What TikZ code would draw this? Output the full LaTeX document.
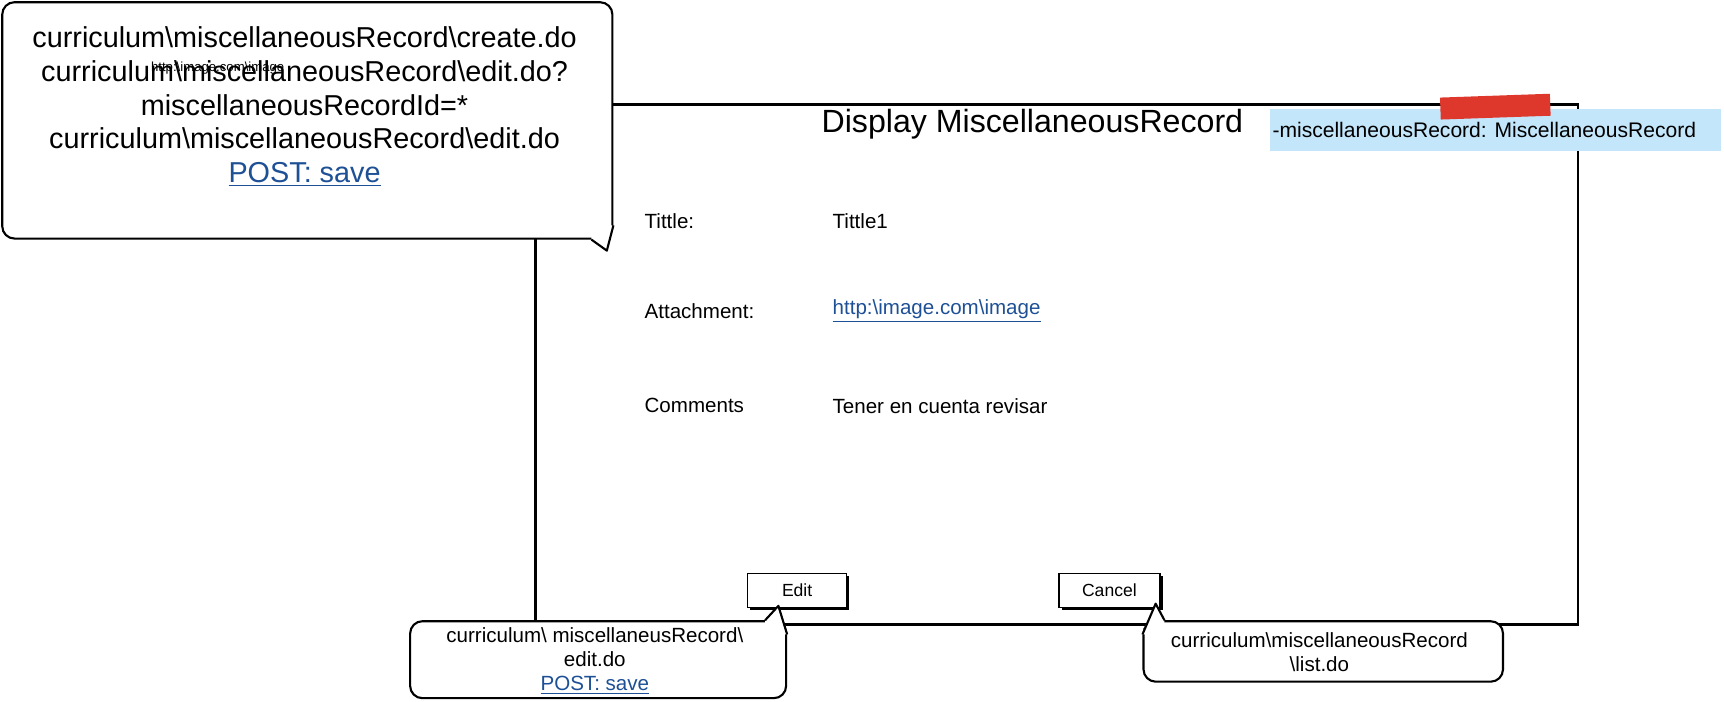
\documentclass[tikz,border=0pt]{standalone}
\usepackage{fontspec}
\setmainfont{Liberation Sans}
\usetikzlibrary{calc,shadows}
\definecolor{linkblue}{RGB}{30,80,150}
\definecolor{notebg}{RGB}{196,230,250}
\definecolor{tapered}{RGB}{222,56,44}
\newcommand{\bsl}{\textbackslash}
\begin{document}
\begin{tikzpicture}[x=0.022cm, y=-0.022cm,
        bubble/.style={rectangle, draw, fill=white, line width=1.2pt, rounded corners=7pt},
        tail/.style={line width=1.2pt, line join=round},
        bubbletext/.style={align=center, font=\fontsize{11.7}{13.8}\selectfont},
        window/.style={rectangle, draw, line width=1.2pt, minimum width=20.856cm, minimum height=10.406cm},
        field/.style={anchor=west, inner xsep=0pt, font=\fontsize{11.7}{13}\selectfont},
        btn/.style={rectangle, draw, fill=white, line width=0.8pt, minimum width=1.98cm, minimum height=0.68cm, font=\fontsize{10}{12}\selectfont,
            drop shadow={shadow xshift=1.6pt, shadow yshift=-1.6pt, fill=black, opacity=1}},
        link/.style={text=linkblue}
    ]
        \useasboundingbox (0,0) rectangle (1568,637.6);

        % Window
        \node[window] (win) at (961,331.5) {};
        \node[font=\fontsize{18.3}{21}\selectfont] (title) at (939,113) {Display MiscellaneousRecord};

        % Note with tape
        \node[fill=notebg, inner xsep=0pt, minimum width=9.02cm, minimum height=0.836cm, font=\fontsize{12}{14}\selectfont] (note) at (1360,118) {-miscellaneousRecord: MiscellaneousRecord\hspace*{0.44cm}};
        \node[fill=tapered, rotate=2, minimum width=2.2cm, minimum height=0.44cm] (tape) at (1360,97) {};

        % Fields
        \node[field] (tittleLbl) at (586,201) {Tittle:};
        \node[field] (tittleVal) at (757,201) {Tittle1};
        \node[field] (attachLbl) at (586,283) {Attachment:};
        \node[field, link] (attachVal) at (757,283) {\underline{http:\bsl image.com\bsl image}};
        \node[field] (commentsLbl) at (586,369) {Comments};
        \node[field] (commentsVal) at (757,369) {Tener en cuenta revisar};

        % Buttons
        \node[btn] (edit) at (725,537) {Edit};
        \node[btn, minimum width=2.02cm] (cancel) at (1009,537) {Cancel};

        % Bubble top left
        \node[bubble, minimum width=12.21cm, minimum height=4.73cm] (urls) at (279.5,109.5) {};
        \fill[white] ($(urls.south east)+(-20,-1)$) -- ($(urls.south east)+(-6,10)$) -- ($(urls.south east)+(1,-13)$) -- ($(urls.south east)+(-20,-13)$) -- cycle;
        \draw[tail] ($(urls.south east)+(-20,0)$) -- ($(urls.south east)+(-6,10)$) -- ($(urls.south east)+(0,-13)$);
        \node[align=center, font=\fontsize{16.4}{19.2}\selectfont] (urlsText) at (277,97) {curriculum\bsl miscellaneousRecord\bsl create.do\\curriculum\bsl miscellaneousRecord\bsl edit.do?\\miscellaneousRecordId=*\\curriculum\bsl miscellaneousRecord\bsl edit.do\\\textcolor{linkblue}{\underline{POST: save}}};
        \node[font=\fontsize{7.5}{8}\selectfont] (urlsLink) at (198,62) {http:\bsl image.com\bsl image};

        % Bubble edit
        \node[bubble, minimum width=7.524cm, minimum height=1.54cm] (editUrl) at (544,600) {};
        \fill[white] ($(editUrl.north east)+(-20,1)$) -- ($(editUrl.north east)+(-8,-13)$) -- ($(editUrl.north east)+(1,13)$) -- ($(editUrl.north east)+(-20,13)$) -- cycle;
        \draw[tail] ($(editUrl.north east)+(-20,0)$) -- ($(editUrl.north east)+(-8,-13)$) -- ($(editUrl.north east)+(0,13)$);
        \node[bubbletext] (editText) at (541,601) {curriculum\bsl{} miscellaneusRecord\bsl\\edit.do\\\textcolor{linkblue}{\underline{POST: save}}};

        % Bubble cancel
        \node[bubble, minimum width=7.194cm, minimum height=1.21cm] (listUrl) at (1203.5,592.5) {};
        \fill[white] ($(listUrl.north west)+(-1,13)$) -- ($(listUrl.north west)+(12,-15)$) -- ($(listUrl.north west)+(20,1)$) -- ($(listUrl.north west)+(20,13)$) -- cycle;
        \draw[tail] ($(listUrl.north west)+(0,13)$) -- ($(listUrl.north west)+(12,-15)$) -- ($(listUrl.north west)+(20,0)$);
        \node[bubbletext] (listText) at (1200,593) {curriculum\bsl miscellaneousRecord\\\bsl list.do};
    \end{tikzpicture}
\end{document}
